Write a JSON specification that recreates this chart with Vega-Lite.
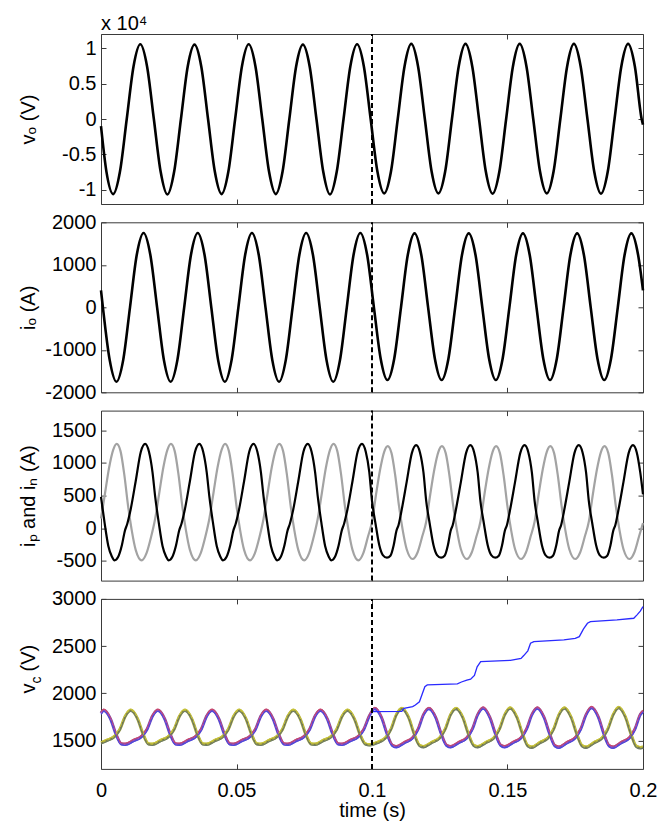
{
"$schema":"https://vega.github.io/schema/vega-lite/v6.json",
"background":"#ffffff",
"padding":{"left":17,"top":13,"right":8,"bottom":0},
"bounds":"flush",
"spacing":18.3,
"config":{
 "font":"Liberation Sans",
 "view":{"stroke":"#3a3a3a","strokeWidth":1},
 "line":{"interpolate":"monotone"},
 "axis":{"domain":false,"grid":false,"tickSize":-5,"tickColor":"#3a3a3a","labelFont":"Liberation Sans","labelFontSize":20,"labelColor":"#000","labelPadding":10,"labelFlush":false,"labelOverlap":false,"titleFont":"Liberation Sans","titleFontSize":20,"titleFontWeight":"normal","titleColor":"#000"}
},
"datasets":{
"vo":[{"t":0,"v":-1000},
{"t":0.002,"v":-7425},{"t":0.0045,"v":-10600},{"t":0.007,"v":-7425},{"t":0.0095,"v":0},{"t":0.012,"v":7425},{"t":0.0145,"v":10550},{"t":0.017,"v":7425},{"t":0.0195,"v":0},
{"t":0.022,"v":-7425},{"t":0.0245,"v":-10650},{"t":0.027,"v":-7425},{"t":0.0295,"v":0},{"t":0.032,"v":7425},{"t":0.0345,"v":10500},{"t":0.037,"v":7425},{"t":0.0395,"v":0},
{"t":0.042,"v":-7425},{"t":0.0445,"v":-10600},{"t":0.047,"v":-7425},{"t":0.0495,"v":0},{"t":0.052,"v":7425},{"t":0.0545,"v":10550},{"t":0.057,"v":7425},{"t":0.0595,"v":0},
{"t":0.062,"v":-7425},{"t":0.0645,"v":-10600},{"t":0.067,"v":-7425},{"t":0.0695,"v":0},{"t":0.072,"v":7425},{"t":0.0745,"v":10500},{"t":0.077,"v":7425},{"t":0.0795,"v":0},
{"t":0.082,"v":-7425},{"t":0.0845,"v":-10650},{"t":0.087,"v":-7425},{"t":0.0895,"v":0},{"t":0.092,"v":7425},{"t":0.0945,"v":10550},{"t":0.097,"v":7425},{"t":0.0995,"v":0},
{"t":0.102,"v":-7425},{"t":0.1045,"v":-10500},{"t":0.107,"v":-7425},{"t":0.1095,"v":0},{"t":0.112,"v":7425},{"t":0.1145,"v":10600},{"t":0.117,"v":7425},{"t":0.1195,"v":0},
{"t":0.122,"v":-7425},{"t":0.1245,"v":-10500},{"t":0.127,"v":-7425},{"t":0.1295,"v":0},{"t":0.132,"v":7425},{"t":0.1345,"v":10600},{"t":0.137,"v":7425},{"t":0.1395,"v":0},
{"t":0.142,"v":-7425},{"t":0.1445,"v":-10550},{"t":0.147,"v":-7425},{"t":0.1495,"v":0},{"t":0.152,"v":7425},{"t":0.1545,"v":10600},{"t":0.157,"v":7425},{"t":0.1595,"v":0},
{"t":0.162,"v":-7425},{"t":0.1645,"v":-10500},{"t":0.167,"v":-7425},{"t":0.1695,"v":0},{"t":0.172,"v":7425},{"t":0.1745,"v":10600},{"t":0.177,"v":7425},{"t":0.1795,"v":0},
{"t":0.182,"v":-7425},{"t":0.1845,"v":-10550},{"t":0.187,"v":-7425},{"t":0.1895,"v":0},{"t":0.192,"v":7425},{"t":0.1945,"v":10600},{"t":0.197,"v":7425},{"t":0.1995,"v":0},
{"t":0.2,"v":-800}],
"io":[{"t":0,"v":400},
{"t":0.0007,"v":0},{"t":0.0032,"v":-1237},{"t":0.0057,"v":-1750},{"t":0.0082,"v":-1237},{"t":0.0107,"v":0},{"t":0.0132,"v":1237},{"t":0.0157,"v":1750},{"t":0.0182,"v":1237},
{"t":0.0207,"v":0},{"t":0.0232,"v":-1237},{"t":0.0257,"v":-1750},{"t":0.0282,"v":-1237},{"t":0.0307,"v":0},{"t":0.0332,"v":1237},{"t":0.0357,"v":1750},{"t":0.0382,"v":1237},
{"t":0.0407,"v":0},{"t":0.0432,"v":-1237},{"t":0.0457,"v":-1750},{"t":0.0482,"v":-1237},{"t":0.0507,"v":0},{"t":0.0532,"v":1237},{"t":0.0557,"v":1750},{"t":0.0582,"v":1237},
{"t":0.0607,"v":0},{"t":0.0632,"v":-1237},{"t":0.0657,"v":-1750},{"t":0.0682,"v":-1237},{"t":0.0707,"v":0},{"t":0.0732,"v":1237},{"t":0.0757,"v":1750},{"t":0.0782,"v":1237},
{"t":0.0807,"v":0},{"t":0.0832,"v":-1237},{"t":0.0857,"v":-1750},{"t":0.0882,"v":-1237},{"t":0.0907,"v":0},{"t":0.0932,"v":1237},{"t":0.0957,"v":1750},{"t":0.0982,"v":1237},
{"t":0.1007,"v":0},{"t":0.1032,"v":-1209},{"t":0.1057,"v":-1710},{"t":0.1082,"v":-1209},{"t":0.1107,"v":0},{"t":0.1132,"v":1230},{"t":0.1157,"v":1740},{"t":0.1182,"v":1230},
{"t":0.1207,"v":0},{"t":0.1232,"v":-1209},{"t":0.1257,"v":-1710},{"t":0.1282,"v":-1209},{"t":0.1307,"v":0},{"t":0.1332,"v":1230},{"t":0.1357,"v":1740},{"t":0.1382,"v":1230},
{"t":0.1407,"v":0},{"t":0.1432,"v":-1209},{"t":0.1457,"v":-1710},{"t":0.1482,"v":-1209},{"t":0.1507,"v":0},{"t":0.1532,"v":1230},{"t":0.1557,"v":1740},{"t":0.1582,"v":1230},
{"t":0.1607,"v":0},{"t":0.1632,"v":-1209},{"t":0.1657,"v":-1710},{"t":0.1682,"v":-1209},{"t":0.1707,"v":0},{"t":0.1732,"v":1230},{"t":0.1757,"v":1740},{"t":0.1782,"v":1230},
{"t":0.1807,"v":0},{"t":0.1832,"v":-1209},{"t":0.1857,"v":-1710},{"t":0.1882,"v":-1209},{"t":0.1907,"v":0},{"t":0.1932,"v":1230},{"t":0.1957,"v":1740},{"t":0.1982,"v":1230},
{"t":0.2,"v":400}],
"ip":[
{"t":0,"v":480},{"t":0.0013,"v":90},{"t":0.0027,"v":-270},{"t":0.004,"v":-430},{"t":0.005,"v":-490},{"t":0.0063,"v":-440},{"t":0.0077,"v":-260},{"t":0.0088,"v":-40},{"t":0.0097,"v":70},{"t":0.0108,"v":260},{"t":0.0128,"v":720},{"t":0.0147,"v":1170},{"t":0.0163,"v":1290},{"t":0.0177,"v":1170},{"t":0.019,"v":860},
{"t":0.02,"v":480},{"t":0.0213,"v":90},{"t":0.0227,"v":-270},{"t":0.024,"v":-430},{"t":0.025,"v":-490},{"t":0.0263,"v":-440},{"t":0.0277,"v":-260},{"t":0.0288,"v":-40},{"t":0.0297,"v":70},{"t":0.0308,"v":260},{"t":0.0328,"v":720},{"t":0.0347,"v":1170},{"t":0.0363,"v":1290},{"t":0.0377,"v":1170},{"t":0.039,"v":860},
{"t":0.04,"v":480},{"t":0.0413,"v":90},{"t":0.0427,"v":-270},{"t":0.044,"v":-430},{"t":0.045,"v":-490},{"t":0.0463,"v":-440},{"t":0.0477,"v":-260},{"t":0.0488,"v":-40},{"t":0.0497,"v":70},{"t":0.0508,"v":260},{"t":0.0528,"v":720},{"t":0.0547,"v":1170},{"t":0.0563,"v":1290},{"t":0.0577,"v":1170},{"t":0.059,"v":860},
{"t":0.06,"v":480},{"t":0.0613,"v":90},{"t":0.0627,"v":-270},{"t":0.064,"v":-430},{"t":0.065,"v":-490},{"t":0.0663,"v":-440},{"t":0.0677,"v":-260},{"t":0.0688,"v":-40},{"t":0.0697,"v":70},{"t":0.0708,"v":260},{"t":0.0728,"v":720},{"t":0.0747,"v":1170},{"t":0.0763,"v":1290},{"t":0.0777,"v":1170},{"t":0.079,"v":860},
{"t":0.08,"v":480},{"t":0.0813,"v":90},{"t":0.0827,"v":-270},{"t":0.084,"v":-430},{"t":0.085,"v":-490},{"t":0.0863,"v":-440},{"t":0.0877,"v":-260},{"t":0.0888,"v":-40},{"t":0.0897,"v":70},{"t":0.0908,"v":260},{"t":0.0928,"v":720},{"t":0.0947,"v":1170},{"t":0.0963,"v":1290},{"t":0.0977,"v":1170},{"t":0.099,"v":860},
{"t":0.1,"v":420},{"t":0.1013,"v":70},{"t":0.1027,"v":-260},{"t":0.104,"v":-410},{"t":0.1055,"v":-450},{"t":0.1068,"v":-420},{"t":0.108,"v":-260},{"t":0.109,"v":-40},{"t":0.1098,"v":50},{"t":0.1108,"v":250},{"t":0.1128,"v":710},{"t":0.1147,"v":1150},{"t":0.1163,"v":1272},{"t":0.1177,"v":1160},{"t":0.119,"v":850},
{"t":0.12,"v":420},{"t":0.1213,"v":70},{"t":0.1227,"v":-260},{"t":0.124,"v":-410},{"t":0.1255,"v":-450},{"t":0.1268,"v":-420},{"t":0.128,"v":-260},{"t":0.129,"v":-40},{"t":0.1298,"v":50},{"t":0.1308,"v":250},{"t":0.1328,"v":710},{"t":0.1347,"v":1150},{"t":0.1363,"v":1272},{"t":0.1377,"v":1160},{"t":0.139,"v":850},
{"t":0.14,"v":420},{"t":0.1413,"v":70},{"t":0.1427,"v":-260},{"t":0.144,"v":-410},{"t":0.1455,"v":-450},{"t":0.1468,"v":-420},{"t":0.148,"v":-260},{"t":0.149,"v":-40},{"t":0.1498,"v":50},{"t":0.1508,"v":250},{"t":0.1528,"v":710},{"t":0.1547,"v":1150},{"t":0.1563,"v":1272},{"t":0.1577,"v":1160},{"t":0.159,"v":850},
{"t":0.16,"v":420},{"t":0.1613,"v":70},{"t":0.1627,"v":-260},{"t":0.164,"v":-410},{"t":0.1655,"v":-450},{"t":0.1668,"v":-420},{"t":0.168,"v":-260},{"t":0.169,"v":-40},{"t":0.1698,"v":50},{"t":0.1708,"v":250},{"t":0.1728,"v":710},{"t":0.1747,"v":1150},{"t":0.1763,"v":1272},{"t":0.1777,"v":1160},{"t":0.179,"v":850},
{"t":0.18,"v":420},{"t":0.1813,"v":70},{"t":0.1827,"v":-260},{"t":0.184,"v":-410},{"t":0.1855,"v":-450},{"t":0.1868,"v":-420},{"t":0.188,"v":-260},{"t":0.189,"v":-40},{"t":0.1898,"v":50},{"t":0.1908,"v":250},{"t":0.1928,"v":710},{"t":0.1947,"v":1150},{"t":0.1963,"v":1272},{"t":0.1977,"v":1160},{"t":0.199,"v":850},
{"t":0.2,"v":520}],
"in":[
{"t":0,"v":150},{"t":0.0015,"v":540},{"t":0.003,"v":930},{"t":0.0045,"v":1200},{"t":0.0058,"v":1290},{"t":0.0072,"v":1180},{"t":0.0086,"v":820},{"t":0.01,"v":340},{"t":0.0113,"v":-20},{"t":0.0128,"v":-330},{"t":0.015,"v":-490},{"t":0.0168,"v":-380},{"t":0.0185,"v":-130},
{"t":0.02,"v":150},{"t":0.0215,"v":540},{"t":0.023,"v":930},{"t":0.0245,"v":1200},{"t":0.0258,"v":1290},{"t":0.0272,"v":1180},{"t":0.0286,"v":820},{"t":0.03,"v":340},{"t":0.0313,"v":-20},{"t":0.0328,"v":-330},{"t":0.035,"v":-490},{"t":0.0368,"v":-380},{"t":0.0385,"v":-130},
{"t":0.04,"v":150},{"t":0.0415,"v":540},{"t":0.043,"v":930},{"t":0.0445,"v":1200},{"t":0.0458,"v":1290},{"t":0.0472,"v":1180},{"t":0.0486,"v":820},{"t":0.05,"v":340},{"t":0.0513,"v":-20},{"t":0.0528,"v":-330},{"t":0.055,"v":-490},{"t":0.0568,"v":-380},{"t":0.0585,"v":-130},
{"t":0.06,"v":150},{"t":0.0615,"v":540},{"t":0.063,"v":930},{"t":0.0645,"v":1200},{"t":0.0658,"v":1290},{"t":0.0672,"v":1180},{"t":0.0686,"v":820},{"t":0.07,"v":340},{"t":0.0713,"v":-20},{"t":0.0728,"v":-330},{"t":0.075,"v":-490},{"t":0.0768,"v":-380},{"t":0.0785,"v":-130},
{"t":0.08,"v":150},{"t":0.0815,"v":540},{"t":0.083,"v":930},{"t":0.0845,"v":1200},{"t":0.0858,"v":1290},{"t":0.0872,"v":1180},{"t":0.0886,"v":820},{"t":0.09,"v":340},{"t":0.0913,"v":-20},{"t":0.0928,"v":-330},{"t":0.095,"v":-490},{"t":0.0968,"v":-380},{"t":0.0985,"v":-130},
{"t":0.1,"v":100},{"t":0.1015,"v":520},{"t":0.103,"v":900},{"t":0.1045,"v":1170},{"t":0.1058,"v":1257},{"t":0.1072,"v":1150},{"t":0.1086,"v":800},{"t":0.11,"v":330},{"t":0.1113,"v":-20},{"t":0.1128,"v":-320},{"t":0.115,"v":-470},{"t":0.1168,"v":-370},{"t":0.1185,"v":-130},
{"t":0.12,"v":100},{"t":0.1215,"v":520},{"t":0.123,"v":900},{"t":0.1245,"v":1170},{"t":0.1258,"v":1257},{"t":0.1272,"v":1150},{"t":0.1286,"v":800},{"t":0.13,"v":330},{"t":0.1313,"v":-20},{"t":0.1328,"v":-320},{"t":0.135,"v":-470},{"t":0.1368,"v":-370},{"t":0.1385,"v":-130},
{"t":0.14,"v":100},{"t":0.1415,"v":520},{"t":0.143,"v":900},{"t":0.1445,"v":1170},{"t":0.1458,"v":1257},{"t":0.1472,"v":1150},{"t":0.1486,"v":800},{"t":0.15,"v":330},{"t":0.1513,"v":-20},{"t":0.1528,"v":-320},{"t":0.155,"v":-470},{"t":0.1568,"v":-370},{"t":0.1585,"v":-130},
{"t":0.16,"v":100},{"t":0.1615,"v":520},{"t":0.163,"v":900},{"t":0.1645,"v":1170},{"t":0.1658,"v":1257},{"t":0.1672,"v":1150},{"t":0.1686,"v":800},{"t":0.17,"v":330},{"t":0.1713,"v":-20},{"t":0.1728,"v":-320},{"t":0.175,"v":-470},{"t":0.1768,"v":-370},{"t":0.1785,"v":-130},
{"t":0.18,"v":100},{"t":0.1815,"v":520},{"t":0.183,"v":900},{"t":0.1845,"v":1170},{"t":0.1858,"v":1257},{"t":0.1872,"v":1150},{"t":0.1886,"v":800},{"t":0.19,"v":330},{"t":0.1913,"v":-20},{"t":0.1928,"v":-320},{"t":0.195,"v":-470},{"t":0.1968,"v":-370},{"t":0.1985,"v":-130},
{"t":0.2,"v":80}],
"vc":[
{"s":"A","t":0,"v":1790},
{"s":"A","t":0.001,"v":1820},{"s":"A","t":0.0035,"v":1730},{"s":"A","t":0.0055,"v":1570},{"s":"A","t":0.0075,"v":1465},{"s":"A","t":0.009,"v":1460},{"s":"A","t":0.012,"v":1500},{"s":"A","t":0.015,"v":1545},{"s":"A","t":0.017,"v":1620},{"s":"A","t":0.019,"v":1760},
{"s":"A","t":0.021,"v":1820},{"s":"A","t":0.0235,"v":1730},{"s":"A","t":0.0255,"v":1570},{"s":"A","t":0.0275,"v":1465},{"s":"A","t":0.029,"v":1460},{"s":"A","t":0.032,"v":1500},{"s":"A","t":0.035,"v":1545},{"s":"A","t":0.037,"v":1620},{"s":"A","t":0.039,"v":1760},
{"s":"A","t":0.041,"v":1820},{"s":"A","t":0.0435,"v":1730},{"s":"A","t":0.0455,"v":1570},{"s":"A","t":0.0475,"v":1465},{"s":"A","t":0.049,"v":1460},{"s":"A","t":0.052,"v":1500},{"s":"A","t":0.055,"v":1545},{"s":"A","t":0.057,"v":1620},{"s":"A","t":0.059,"v":1760},
{"s":"A","t":0.061,"v":1820},{"s":"A","t":0.0635,"v":1730},{"s":"A","t":0.0655,"v":1570},{"s":"A","t":0.0675,"v":1465},{"s":"A","t":0.069,"v":1460},{"s":"A","t":0.072,"v":1500},{"s":"A","t":0.075,"v":1545},{"s":"A","t":0.077,"v":1620},{"s":"A","t":0.079,"v":1760},
{"s":"A","t":0.081,"v":1820},{"s":"A","t":0.0835,"v":1730},{"s":"A","t":0.0855,"v":1570},{"s":"A","t":0.0875,"v":1465},{"s":"A","t":0.089,"v":1460},{"s":"A","t":0.092,"v":1500},{"s":"A","t":0.095,"v":1545},{"s":"A","t":0.097,"v":1620},{"s":"A","t":0.099,"v":1760},
{"s":"A","t":0.101,"v":1840},{"s":"A","t":0.1035,"v":1745},{"s":"A","t":0.1055,"v":1575},{"s":"A","t":0.1075,"v":1450},{"s":"A","t":0.109,"v":1435},{"s":"A","t":0.112,"v":1480},{"s":"A","t":0.115,"v":1530},{"s":"A","t":0.117,"v":1620},{"s":"A","t":0.119,"v":1775},
{"s":"A","t":0.121,"v":1840},{"s":"A","t":0.1235,"v":1745},{"s":"A","t":0.1255,"v":1575},{"s":"A","t":0.1275,"v":1450},{"s":"A","t":0.129,"v":1435},{"s":"A","t":0.132,"v":1480},{"s":"A","t":0.135,"v":1530},{"s":"A","t":0.137,"v":1620},{"s":"A","t":0.139,"v":1775},
{"s":"A","t":0.141,"v":1845},{"s":"A","t":0.1435,"v":1745},{"s":"A","t":0.1455,"v":1575},{"s":"A","t":0.1475,"v":1450},{"s":"A","t":0.149,"v":1435},{"s":"A","t":0.152,"v":1480},{"s":"A","t":0.155,"v":1530},{"s":"A","t":0.157,"v":1620},{"s":"A","t":0.159,"v":1775},
{"s":"A","t":0.161,"v":1845},{"s":"A","t":0.1635,"v":1745},{"s":"A","t":0.1655,"v":1575},{"s":"A","t":0.1675,"v":1445},{"s":"A","t":0.169,"v":1430},{"s":"A","t":0.172,"v":1480},{"s":"A","t":0.175,"v":1530},{"s":"A","t":0.177,"v":1620},{"s":"A","t":0.179,"v":1775},
{"s":"A","t":0.181,"v":1850},{"s":"A","t":0.1835,"v":1750},{"s":"A","t":0.1855,"v":1575},{"s":"A","t":0.1875,"v":1445},{"s":"A","t":0.189,"v":1430},{"s":"A","t":0.192,"v":1480},{"s":"A","t":0.195,"v":1530},{"s":"A","t":0.197,"v":1620},{"s":"A","t":0.199,"v":1775},
{"s":"A","t":0.2,"v":1810},
{"s":"B","t":0,"v":1475},
{"s":"B","t":0.002,"v":1500},{"s":"B","t":0.005,"v":1545},{"s":"B","t":0.007,"v":1620},{"s":"B","t":0.009,"v":1760},{"s":"B","t":0.011,"v":1820},{"s":"B","t":0.0135,"v":1730},{"s":"B","t":0.0155,"v":1570},{"s":"B","t":0.0175,"v":1465},{"s":"B","t":0.019,"v":1460},
{"s":"B","t":0.022,"v":1500},{"s":"B","t":0.025,"v":1545},{"s":"B","t":0.027,"v":1620},{"s":"B","t":0.029,"v":1760},{"s":"B","t":0.031,"v":1820},{"s":"B","t":0.0335,"v":1730},{"s":"B","t":0.0355,"v":1570},{"s":"B","t":0.0375,"v":1465},{"s":"B","t":0.039,"v":1460},
{"s":"B","t":0.042,"v":1500},{"s":"B","t":0.045,"v":1545},{"s":"B","t":0.047,"v":1620},{"s":"B","t":0.049,"v":1760},{"s":"B","t":0.051,"v":1820},{"s":"B","t":0.0535,"v":1730},{"s":"B","t":0.0555,"v":1570},{"s":"B","t":0.0575,"v":1465},{"s":"B","t":0.059,"v":1460},
{"s":"B","t":0.062,"v":1500},{"s":"B","t":0.065,"v":1545},{"s":"B","t":0.067,"v":1620},{"s":"B","t":0.069,"v":1760},{"s":"B","t":0.071,"v":1820},{"s":"B","t":0.0735,"v":1730},{"s":"B","t":0.0755,"v":1570},{"s":"B","t":0.0775,"v":1465},{"s":"B","t":0.079,"v":1460},
{"s":"B","t":0.082,"v":1500},{"s":"B","t":0.085,"v":1545},{"s":"B","t":0.087,"v":1620},{"s":"B","t":0.089,"v":1760},{"s":"B","t":0.091,"v":1820},{"s":"B","t":0.0935,"v":1730},{"s":"B","t":0.0955,"v":1570},{"s":"B","t":0.0975,"v":1465},{"s":"B","t":0.099,"v":1455},
{"s":"B","t":0.102,"v":1480},{"s":"B","t":0.105,"v":1530},{"s":"B","t":0.107,"v":1620},{"s":"B","t":0.109,"v":1775},{"s":"B","t":0.111,"v":1840},{"s":"B","t":0.1135,"v":1745},{"s":"B","t":0.1155,"v":1575},{"s":"B","t":0.1175,"v":1450},{"s":"B","t":0.119,"v":1435},
{"s":"B","t":0.122,"v":1480},{"s":"B","t":0.125,"v":1530},{"s":"B","t":0.127,"v":1620},{"s":"B","t":0.129,"v":1775},{"s":"B","t":0.131,"v":1840},{"s":"B","t":0.1335,"v":1745},{"s":"B","t":0.1355,"v":1575},{"s":"B","t":0.1375,"v":1450},{"s":"B","t":0.139,"v":1435},
{"s":"B","t":0.142,"v":1480},{"s":"B","t":0.145,"v":1530},{"s":"B","t":0.147,"v":1620},{"s":"B","t":0.149,"v":1775},{"s":"B","t":0.151,"v":1845},{"s":"B","t":0.1535,"v":1745},{"s":"B","t":0.1555,"v":1575},{"s":"B","t":0.1575,"v":1445},{"s":"B","t":0.159,"v":1430},
{"s":"B","t":0.162,"v":1480},{"s":"B","t":0.165,"v":1530},{"s":"B","t":0.167,"v":1620},{"s":"B","t":0.169,"v":1775},{"s":"B","t":0.171,"v":1845},{"s":"B","t":0.1735,"v":1745},{"s":"B","t":0.1755,"v":1575},{"s":"B","t":0.1775,"v":1445},{"s":"B","t":0.179,"v":1430},
{"s":"B","t":0.182,"v":1480},{"s":"B","t":0.185,"v":1530},{"s":"B","t":0.187,"v":1620},{"s":"B","t":0.189,"v":1775},{"s":"B","t":0.191,"v":1850},{"s":"B","t":0.1935,"v":1750},{"s":"B","t":0.1955,"v":1575},{"s":"B","t":0.1975,"v":1440},{"s":"B","t":0.199,"v":1425},
{"s":"B","t":0.2,"v":1430}],
"blue":[{"t":0.1,"v":1807},{"t":0.111,"v":1810},{"t":0.1118,"v":1842},{"t":0.115,"v":1860},{"t":0.116,"v":1877},{"t":0.1175,"v":1910},{"t":0.1185,"v":1990},{"t":0.1195,"v":2070},{"t":0.1204,"v":2089},{"t":0.1315,"v":2100},{"t":0.133,"v":2120},{"t":0.135,"v":2140},{"t":0.1364,"v":2150},{"t":0.1378,"v":2190},{"t":0.1388,"v":2280},{"t":0.1401,"v":2336},{"t":0.1511,"v":2350},{"t":0.155,"v":2370},{"t":0.156,"v":2400},{"t":0.1575,"v":2450},{"t":0.1585,"v":2530},{"t":0.1597,"v":2548},{"t":0.1708,"v":2566},{"t":0.175,"v":2583},{"t":0.1765,"v":2600},{"t":0.178,"v":2680},{"t":0.1795,"v":2742},{"t":0.1806,"v":2760},{"t":0.1904,"v":2778},{"t":0.1966,"v":2795},{"t":0.1978,"v":2831},{"t":0.199,"v":2870},{"t":0.2,"v":2918}]
},
"vconcat":[
{
 "width":542,"height":170,
 "title":{"text":"x 10⁴","anchor":"start","frame":"group","fontSize":20,"fontWeight":"normal","font":"Liberation Sans","offset":-1,"color":"#000"},
 "layer":[
  {"data":{"name":"vo"},"mark":{"type":"line","color":"#000","strokeWidth":2.6},
   "encoding":{
    "x":{"field":"t","type":"quantitative","scale":{"domain":[0,0.2],"nice":false,"zero":false},"axis":{"orient":"bottom","values":[0,0.05,0.1,0.15,0.2],"labels":false,"title":null}},
    "y":{"field":"v","type":"quantitative","scale":{"domain":[-12000,12000],"nice":false,"zero":false},"axis":{"orient":"left","values":[-10000,-5000,0,5000,10000],"labelExpr":"''+(datum.value/10000)","title":"vₒ (V)","titleX":-67,"titleBaseline":"alphabetic"}}}},
  {"data":{"values":[{"t":0.1}]},"mark":{"type":"rule","color":"#000","strokeWidth":2,"strokeDash":[5,3]},
   "encoding":{
    "x":{"field":"t","type":"quantitative","scale":{"domain":[0,0.2],"nice":false,"zero":false},"axis":{"orient":"top","values":[0,0.05,0.1,0.15,0.2],"labels":false,"title":null}},
    "y":{"datum":-12000,"type":"quantitative","scale":{"domain":[-12000,12000],"nice":false,"zero":false},"axis":{"orient":"right","values":[-10000,-5000,0,5000,10000],"labels":false,"title":null}},
    "y2":{"datum":12000}}}
 ],
 "resolve":{"axis":{"x":"independent","y":"independent"}}
},
{
 "width":542,"height":170,
 "layer":[
  {"data":{"name":"io"},"mark":{"type":"line","color":"#000","strokeWidth":2.6},
   "encoding":{
    "x":{"field":"t","type":"quantitative","scale":{"domain":[0,0.2],"nice":false,"zero":false},"axis":{"orient":"bottom","values":[0,0.05,0.1,0.15,0.2],"labels":false,"title":null}},
    "y":{"field":"v","type":"quantitative","scale":{"domain":[-2000,2000],"nice":false,"zero":false},"axis":{"orient":"left","values":[-2000,-1000,0,1000,2000],"labelExpr":"''+datum.value","title":"iₒ (A)","titleX":-67,"titleBaseline":"alphabetic"}}}},
  {"data":{"values":[{"t":0.1}]},"mark":{"type":"rule","color":"#000","strokeWidth":2,"strokeDash":[5,3]},
   "encoding":{
    "x":{"field":"t","type":"quantitative","scale":{"domain":[0,0.2],"nice":false,"zero":false},"axis":{"orient":"top","values":[0,0.05,0.1,0.15,0.2],"labels":false,"title":null}},
    "y":{"datum":-2000,"type":"quantitative","scale":{"domain":[-2000,2000],"nice":false,"zero":false},"axis":{"orient":"right","values":[-2000,-1000,0,1000,2000],"labels":false,"title":null}},
    "y2":{"datum":2000}}}
 ],
 "resolve":{"axis":{"x":"independent","y":"independent"}}
},
{
 "width":542,"height":170,
 "layer":[
  {"data":{"name":"in"},"mark":{"type":"line","color":"#a3a3a3","strokeWidth":2.2},
   "encoding":{
    "x":{"field":"t","type":"quantitative","scale":{"domain":[0,0.2],"nice":false,"zero":false},"axis":{"orient":"bottom","values":[0,0.05,0.1,0.15,0.2],"labels":false,"title":null}},
    "y":{"field":"v","type":"quantitative","scale":{"domain":[-800,1800],"nice":false,"zero":false},"axis":{"orient":"left","values":[-500,0,500,1000,1500],"labelExpr":"''+datum.value","title":"iₚ and iₙ (A)","titleX":-67,"titleBaseline":"alphabetic"}}}},
  {"data":{"name":"ip"},"mark":{"type":"line","color":"#000","strokeWidth":2.2},
   "encoding":{
    "x":{"field":"t","type":"quantitative","scale":{"domain":[0,0.2],"nice":false,"zero":false},"axis":null},
    "y":{"field":"v","type":"quantitative","scale":{"domain":[-800,1800],"nice":false,"zero":false},"axis":null}}},
  {"data":{"values":[{"t":0.1}]},"mark":{"type":"rule","color":"#000","strokeWidth":2,"strokeDash":[5,3]},
   "encoding":{
    "x":{"field":"t","type":"quantitative","scale":{"domain":[0,0.2],"nice":false,"zero":false},"axis":{"orient":"top","values":[0,0.05,0.1,0.15,0.2],"labels":false,"title":null}},
    "y":{"datum":-800,"type":"quantitative","scale":{"domain":[-800,1800],"nice":false,"zero":false},"axis":{"orient":"right","values":[-500,0,500,1000,1500],"labels":false,"title":null}},
    "y2":{"datum":1800}}}
 ],
 "resolve":{"axis":{"x":"independent","y":"independent"}}
},
{
 "width":542,"height":170,
 "layer":[
  {"data":{"name":"vc"},"mark":{"type":"line","strokeWidth":3},
   "encoding":{
    "x":{"field":"t","type":"quantitative","scale":{"domain":[0,0.2],"nice":false,"zero":false},"axis":{"orient":"bottom","values":[0,0.05,0.1,0.15,0.2],"labelExpr":"''+datum.value","title":"time (s)","labelPadding":16.5,"titlePadding":0}},
    "y":{"field":"v","type":"quantitative","scale":{"domain":[1200,3000],"nice":false,"zero":false},"axis":{"orient":"left","values":[1500,2000,2500,3000],"labelExpr":"''+datum.value","title":"v","titleX":-67,"titleY":94,"titleAlign":"left","titleAngle":270,"titleBaseline":"alphabetic"}},
    "color":{"field":"s","type":"nominal","scale":{"domain":["A","B"],"range":["#7050b8","#b0ae3a"]},"legend":null}}},
  {"data":{"name":"vc"},"mark":{"type":"line","strokeWidth":1.1,"yOffset":-1.2},
   "encoding":{
    "x":{"field":"t","type":"quantitative","scale":{"domain":[0,0.2],"nice":false,"zero":false},"axis":null},
    "y":{"field":"v","type":"quantitative","scale":{"domain":[1200,3000],"nice":false,"zero":false},"axis":{"orient":"left","labels":false,"ticks":false,"title":"c","titleFontSize":14,"titleX":-61,"titleY":84,"titleAlign":"left","titleAngle":270,"titleBaseline":"alphabetic"}},
    "color":{"field":"s","type":"nominal","scale":{"domain":["A","B"],"range":["#d04868","#c8c43a"]},"legend":null}}},
  {"data":{"name":"vc"},"mark":{"type":"line","strokeWidth":1.1,"yOffset":1.2},
   "encoding":{
    "x":{"field":"t","type":"quantitative","scale":{"domain":[0,0.2],"nice":false,"zero":false},"axis":null},
    "y":{"field":"v","type":"quantitative","scale":{"domain":[1200,3000],"nice":false,"zero":false},"axis":{"orient":"left","labels":false,"ticks":false,"title":"(V)","titleX":-67,"titleY":72,"titleAlign":"left","titleAngle":270,"titleBaseline":"alphabetic"}},
    "color":{"field":"s","type":"nominal","scale":{"domain":["A","B"],"range":["#4a48e0","#6a7a6a"]},"legend":null}}},
  {"data":{"name":"vc"},"mark":{"type":"line","strokeWidth":1,"strokeDash":[2,3]},
   "encoding":{
    "x":{"field":"t","type":"quantitative","scale":{"domain":[0,0.2],"nice":false,"zero":false},"axis":null},
    "y":{"field":"v","type":"quantitative","scale":{"domain":[1200,3000],"nice":false,"zero":false},"axis":null},
    "color":{"field":"s","type":"nominal","scale":{"domain":["A","B"],"range":["#b048c0","#707050"]},"legend":null}}},
  {"data":{"name":"blue"},"mark":{"type":"line","color":"#2a2aff","strokeWidth":1.3,"interpolate":"linear"},
   "encoding":{
    "x":{"field":"t","type":"quantitative","scale":{"domain":[0,0.2],"nice":false,"zero":false},"axis":null},
    "y":{"field":"v","type":"quantitative","scale":{"domain":[1200,3000],"nice":false,"zero":false},"axis":null}}},
  {"data":{"values":[{"t":0.1}]},"mark":{"type":"rule","color":"#000","strokeWidth":2,"strokeDash":[5,3]},
   "encoding":{
    "x":{"field":"t","type":"quantitative","scale":{"domain":[0,0.2],"nice":false,"zero":false},"axis":{"orient":"top","values":[0,0.05,0.1,0.15,0.2],"labels":false,"title":null}},
    "y":{"datum":1200,"type":"quantitative","scale":{"domain":[1200,3000],"nice":false,"zero":false},"axis":{"orient":"right","values":[1500,2000,2500,3000],"labels":false,"title":null}},
    "y2":{"datum":3000}}}
 ],
 "resolve":{"axis":{"x":"independent","y":"independent"},"scale":{"color":"independent"}}
}
]
}
